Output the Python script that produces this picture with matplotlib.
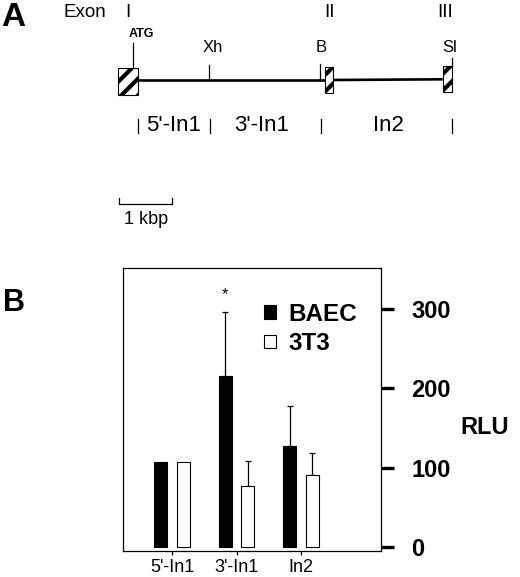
import numpy as np
import matplotlib
matplotlib.use("Agg")
import matplotlib.pyplot as plt
from matplotlib.patches import Rectangle, Patch

plt.rcParams['font.family'] = ['Liberation Sans', 'DejaVu Sans']
plt.rcParams['hatch.linewidth'] = 3.0

# ---------------- data ----------------
# Panel A: gene map (kbp from start of exon I)
exon_names = ["I", "II", "III"]
exon_start = [0.00, 3.917, 6.132]
exon_end = [0.39, 4.057, 6.302]
atg_pos = 0.294
site_names = ["Xh", "B", "Sl"]
site_pos = [1.728, 3.817, 6.30]
region_names = ["5'-In1", "3'-In1", "In2"]
region_bounds = [0.389, 1.742, 3.83, 6.30]
scale_kbp = 1.0

# Panel B: reporter activity
categories = ["5'-In1", "3'-In1", "In2"]
baec = [107, 216, 127]
baec_err = [0, 80, 51]
t3 = [107, 77, 91]
t3_err = [0, 32, 27]
yticks = [0, 100, 200, 300]

W, H = 520, 577
fig = plt.figure(figsize=(W / 100, H / 100), dpi=100)

# ---------------- Panel A ----------------
px_per_kbp = 53.0
x0_px = 117.7
axA = fig.add_axes([0, 1 - 250 / H, 1, 250 / H])
axA.set_xlim(-x0_px / px_per_kbp, (W - x0_px) / px_per_kbp)
axA.set_ylim(250, 0)
axA.axis('off')

# exon heights (pixel units of this axes)
exon_y = [(67.7, 95.0), (66.7, 93.3), (66.0, 92.3)]
line_y = 80.0
# intron lines
for i in range(len(exon_start) - 1):
    axA.plot([exon_end[i], exon_start[i + 1]], [line_y, line_y - 0.7 * i],
             color='black', lw=1.9, solid_capstyle='butt', zorder=2)
for s, e, (yt, yb) in zip(exon_start, exon_end, exon_y):
    axA.add_patch(Rectangle((s, yt), e - s, yb - yt, facecolor='white',
                            edgecolor='black', hatch='//', lw=0.8, zorder=3))
# exon labels
exon_label_x = [exon_start[0] + 0.19, exon_start[1] + 0.07, exon_start[2] + 0.04]
axA.text(-0.61, 12.5, "Exon", ha='center', va='center', fontsize=13.5)
for name, xx in zip(exon_names, exon_label_x):
    axA.text(xx, 12.5, name, ha='center', va='center', fontsize=13.5)
# ATG
axA.plot([atg_pos, atg_pos], [43, 67.7], color='black', lw=0.9)
axA.text(atg_pos + 0.16, 34, "ATG", ha='center', va='center', fontsize=9,
         fontweight='bold')
# restriction sites
site_tick = [(65, 80), (64.3, 80), (58.3, 66)]
site_lab_dx = [0.06, 0.02, -0.03]
for name, p, (t0, t1), dx in zip(site_names, site_pos, site_tick, site_lab_dx):
    axA.plot([p, p], [t0, t1], color='black', lw=0.9)
    axA.text(p + dx, 47, name, ha='center', va='center', fontsize=12)
# region markers
for b in region_bounds:
    axA.plot([b, b], [119, 132.7], color='black', lw=0.9)
region_cx = [1.05, 2.72, 5.1]
for name, cx in zip(region_names, region_cx):
    axA.text(cx, 125.7, name, ha='center', va='center', fontsize=16)
# scale bar
sb0 = 0.03
axA.plot([sb0, sb0, sb0 + scale_kbp, sb0 + scale_kbp], [198.3, 204, 204, 198.3],
         color='black', lw=0.9)
axA.text(sb0 + 0.5, 220, "1 kbp", ha='center', va='center', fontsize=13)
axA.text(-1.98, 17, "A", ha='center', va='center', fontsize=24, fontweight='bold')

# ---------------- Panel B ----------------
left, right, top, bottom = 123, 381, 268, 551
axB = fig.add_axes([left / W, 1 - bottom / H, (right - left) / W, (bottom - top) / H])
x = np.arange(len(categories))
bw = 0.2
off = 0.175
axB.bar(x - off, baec, bw, color='black', edgecolor='black', lw=0.8, label='BAEC', zorder=2)
axB.bar(x + off, t3, bw, color='white', edgecolor='black', lw=0.8, label='3T3', zorder=2)
for xs, vals, errs in [(x - off, baec, baec_err), (x + off, t3, t3_err)]:
    vals = np.asarray(vals)
    errs = np.asarray(errs)
    m = errs > 0
    axB.errorbar(xs[m], vals[m], yerr=[np.zeros(m.sum()), errs[m]], fmt='none',
                 ecolor='black', elinewidth=0.9, capsize=2.3, capthick=0.9, zorder=1)
# significance asterisk
axB.text(x[1] - off, 300 + 19, "*", ha='center', va='center', fontsize=12)

axB.set_xlim(-0.76, 3.24)
axB.set_ylim(-5, 352)
axB.set_xticks(x)
axB.set_xticklabels(categories, fontsize=13)
axB.tick_params(axis='x', direction='out', length=3, width=0.9, pad=3)
axB.yaxis.tick_right()
axB.set_yticks(yticks)
axB.set_yticklabels([str(v) for v in yticks], fontsize=17, fontweight='bold')
axB.tick_params(axis='y', direction='out', length=9, width=2.4, pad=13)
for sp in axB.spines.values():
    sp.set_linewidth(0.9)
axB.yaxis.set_label_position('right')
axB.set_ylabel("RLU", rotation=0, fontsize=17, fontweight='bold', ha='center', va='center')
axB.yaxis.set_label_coords((485 - left) / (right - left), (bottom - 428) / (bottom - top))

handles = [Patch(facecolor='black', edgecolor='black', lw=0.8),
           Patch(facecolor='white', edgecolor='black', lw=0.8)]
axB.legend(handles, ['BAEC', '3T3'], loc='upper left',
           bbox_to_anchor=((264 - left) / (right - left), (bottom - 303) / (bottom - top)),
           frameon=False, prop={'weight': 'bold', 'size': 17.5},
           handlelength=0.5, handleheight=0.5, handletextpad=0.5,
           labelspacing=0.25, borderpad=0, borderaxespad=0)

fig.text(13.7 / W, 1 - 303.3 / H, "B", ha='center', va='center', fontsize=22,
         fontweight='bold')

fig.savefig("out.png", dpi=100)
